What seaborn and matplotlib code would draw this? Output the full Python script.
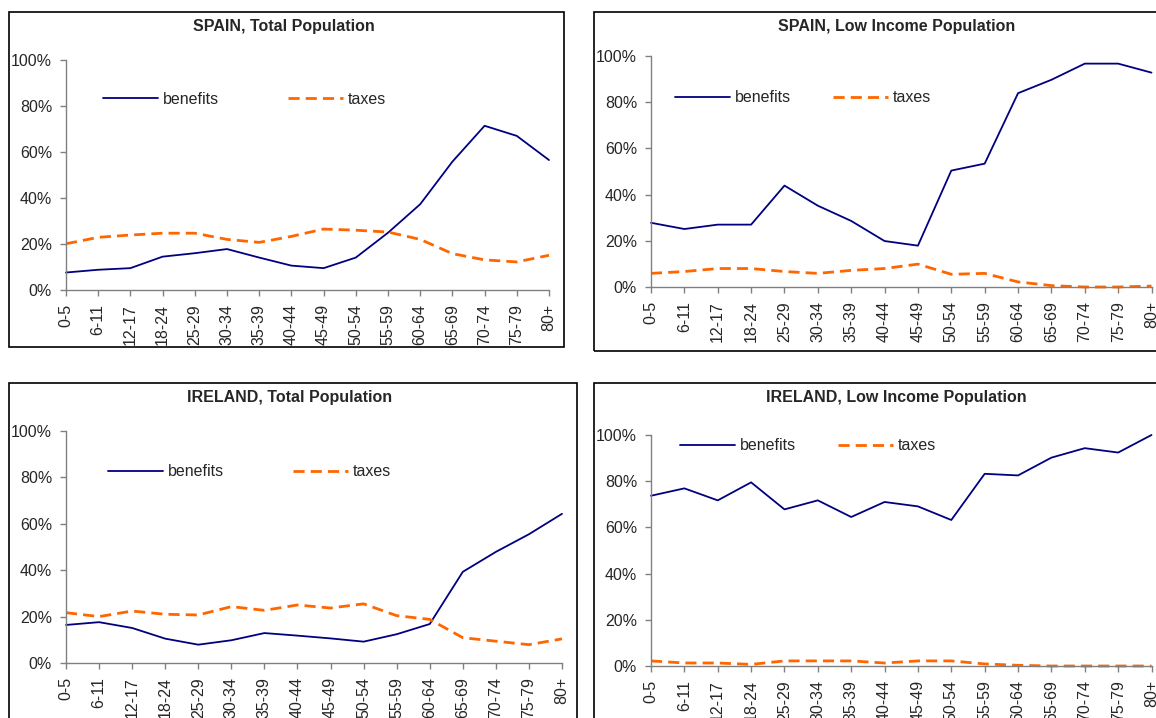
import numpy as np
import pandas as pd
import matplotlib.pyplot as plt
import matplotlib.patches as mpatches
import seaborn as sns

sns.set_style("white")
plt.rcParams["font.family"] = ["Liberation Sans", "DejaVu Sans"]
plt.rcParams["font.size"] = 11.5

ages = ["0-5", "6-11", "12-17", "18-24", "25-29", "30-34", "35-39", "40-44",
        "45-49", "50-54", "55-59", "60-64", "65-69", "70-74", "75-79", "80+"]

spain_total_benefits = [7.6, 8.8, 9.5, 14.5, 16.0, 17.8, 14.1, 10.6,
                        9.5, 14.1, 24.9, 37.3, 55.8, 71.4, 67.0, 56.5]
spain_total_taxes = [20.1, 22.9, 23.9, 24.7, 24.7, 22.0, 20.7, 23.3,
                     26.5, 26.0, 25.2, 22.0, 15.8, 13.1, 12.2, 15.1]

spain_low_benefits = [27.8, 25.1, 27.0, 27.0, 43.9, 35.2, 28.6, 19.9,
                      17.9, 50.4, 53.4, 83.9, 89.7, 96.7, 96.7, 92.8]
spain_low_taxes = [5.9, 6.7, 8.0, 8.0, 6.7, 5.9, 7.2, 8.0,
                   9.9, 5.5, 5.9, 2.2, 0.6, 0.0, 0.0, 0.4]

ireland_total_benefits = [16.4, 17.6, 15.1, 10.5, 7.9, 9.8, 12.9, 11.8,
                          10.6, 9.2, 12.4, 16.8, 39.3, 47.9, 55.5, 64.3]
ireland_total_taxes = [21.7, 20.0, 22.4, 21.0, 20.7, 24.3, 22.7, 25.0,
                       23.7, 25.5, 20.4, 18.8, 10.9, 9.4, 7.9, 10.4]

ireland_low_benefits = [73.7, 76.9, 71.7, 79.5, 67.8, 71.7, 64.5, 71.0,
                        69.1, 63.2, 83.2, 82.5, 90.2, 94.3, 92.4, 100.0]
ireland_low_taxes = [2.2, 1.3, 1.3, 0.7, 2.2, 2.2, 2.2, 1.3,
                     2.2, 2.2, 0.9, 0.3, 0.0, 0.0, 0.0, 0.0]

titles = ["SPAIN, Total Population", "SPAIN, Low Income Population",
          "IRELAND, Total Population", "IRELAND, Low Income Population"]

W, H = 1156, 718
fig = plt.figure(figsize=(W / 100, H / 100), dpi=100)


def fx(px):
    return px / W


def fy(py):
    return 1 - py / H


# panel layout in pixels: box, axes, legend anchor, title centre, column spacing
panels = [
    dict(title=titles[0], ben=spain_total_benefits, tax=spain_total_taxes,
         box=(9, 12, 564, 347), ax=(66, 60, 549, 290), leg=(103, 99), cs=4.3,
         tc=(284, 26)),
    dict(title=titles[1], ben=spain_low_benefits, tax=spain_low_taxes,
         box=(594, 12, 1200, 351), ax=(651, 56, 1151.5, 287), leg=(675, 98), cs=2.6,
         tc=(897, 26)),
    dict(title=titles[2], ben=ireland_total_benefits, tax=ireland_total_taxes,
         box=(9, 383, 577, 760), ax=(66, 431, 562, 663), leg=(108, 472), cs=4.3,
         tc=(290, 398)),
    dict(title=titles[3], ben=ireland_low_benefits, tax=ireland_low_taxes,
         box=(594, 383, 1200, 760), ax=(651, 435, 1151.5, 666), leg=(680, 446), cs=2.6,
         tc=(896, 398)),
]

for p in panels:
    x0, y0, x1, y1 = p["box"]
    fig.patches.append(mpatches.Rectangle((fx(x0), fy(y1)), fx(x1 - x0), (y1 - y0) / H,
                                          transform=fig.transFigure, fill=False,
                                          edgecolor="black", linewidth=1.2))
    fig.text(fx(p["tc"][0]), fy(p["tc"][1]), p["title"],
             ha="center", va="center", fontsize=11.5, fontweight="bold")

    a0, b0, a1, b1 = p["ax"]
    ax = fig.add_axes([fx(a0), fy(b1), fx(a1 - a0), (b1 - b0) / H])

    df = pd.DataFrame({
        "age": ages * 2,
        "value": np.array(p["ben"] + p["tax"]) / 100,
        "series": ["benefits"] * len(ages) + ["taxes"] * len(ages),
    })
    sns.lineplot(data=df, x="age", y="value", hue="series", style="series",
                 hue_order=["benefits", "taxes"], style_order=["benefits", "taxes"],
                 palette={"benefits": "#000080", "taxes": "#FF6600"},
                 dashes={"benefits": "", "taxes": (4.0, 2.2)},
                 sort=False, legend=False, ax=ax)
    ax.lines[0].set_linewidth(1.3)
    ax.lines[1].set_linewidth(2.0)
    for ln in ax.lines:
        ln.set_clip_on(False)

    ax.set_xlim(0, len(ages) - 1)
    ax.set_ylim(0, 1)
    yt = np.arange(0, 1.01, 0.2)
    ax.set_yticks(yt)
    ax.set_yticklabels([f"{int(round(v * 100))}%" for v in yt])
    ax.set_xticks(range(len(ages)))
    ax.set_xticklabels(ages, rotation=90)
    ax.set_xlabel("")
    ax.set_ylabel("")
    ax.tick_params(axis="both", direction="out", length=4, width=1, color="#808080",
                   labelsize=11.5, pad=6)
    ax.tick_params(axis="x", bottom=True)
    ax.tick_params(axis="y", left=True)
    for side in ["top", "right"]:
        ax.spines[side].set_visible(False)
    for side in ["left", "bottom"]:
        ax.spines[side].set_color("#808080")
        ax.spines[side].set_linewidth(1)
    ax.patch.set_alpha(0)

    lx, ly = p["leg"]
    ax.legend(ax.lines[:2], ["benefits", "taxes"], loc="center left",
              bbox_to_anchor=(fx(lx), fy(ly)), bbox_transform=fig.transFigure,
              ncol=2, frameon=False, borderpad=0, borderaxespad=0,
              handlelength=3.45, handletextpad=0.3, columnspacing=p["cs"], fontsize=11.5)

fig.savefig("out.png", dpi=100, facecolor="white")
